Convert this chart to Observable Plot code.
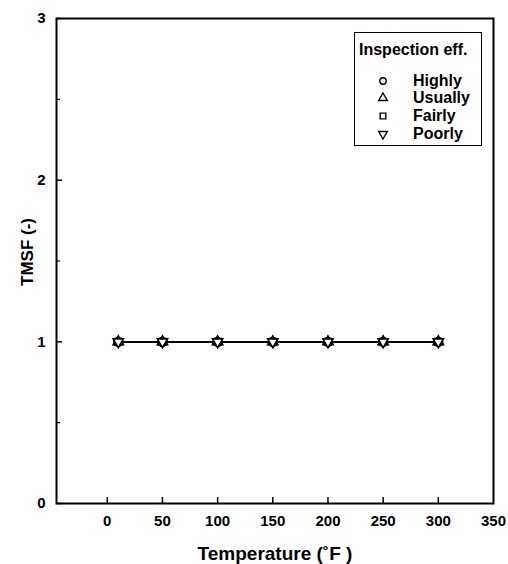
<!DOCTYPE html>
<html><head><meta charset="utf-8">
<script src="https://cdn.jsdelivr.net/npm/d3@7"></script>
<script src="https://cdn.jsdelivr.net/npm/@observablehq/plot@0.6"></script>
<style>
html,body{margin:0;padding:0;background:#fff;}
#wrap{position:relative;width:508px;height:564px;font-family:"Liberation Sans",Arial,sans-serif;}
#legend{position:absolute;left:354px;top:32px;width:128px;height:114px;border:1.5px solid #000;background:#fff;box-sizing:border-box;font-weight:bold;color:#000;}
#legend .title{position:absolute;left:4px;top:8px;font-size:16px;line-height:18px;white-space:nowrap;}
#legend .row{position:absolute;left:0;height:18px;width:100%;}
#legend .row svg{position:absolute;left:21px;top:2px;}
#legend .row span{position:absolute;left:58px;top:0;font-size:16px;line-height:18px;}
</style></head><body><div id="wrap"></div>
<script>
// Data
const temperature = [10, 50, 100, 150, 200, 250, 300];
const highly  = [1, 1, 1, 1, 1, 1, 1];
const usually = [1, 1, 1, 1, 1, 1, 1];
const fairly  = [1, 1, 1, 1, 1, 1, 1];
const poorly  = [1, 1, 1, 1, 1, 1, 1];
const seriesNames = ["Highly", "Usually", "Fairly", "Poorly"];
const xTicks = [0, 50, 100, 150, 200, 250, 300, 350];
const yTicks = [0, 1, 2, 3];
const yMinorTicks = [0.5, 1.5, 2.5];
const legendTitle = "Inspection eff.";
const xLabel = "Temperature (˚F )";
const yLabel = "TMSF (-)";

const triangleDown = {
  draw(context, size) {
    d3.symbolTriangle.draw({
      moveTo: (x, y) => context.moveTo(x, -y),
      lineTo: (x, y) => context.lineTo(x, -y),
      closePath: () => context.closePath()
    }, size);
  }
};
const symbols = [d3.symbolCircle, d3.symbolTriangle, d3.symbolSquare, triangleDown];
const seriesValues = [highly, usually, fairly, poorly];

const rows = [];
seriesNames.forEach((name, i) => {
  temperature.forEach((t, j) => rows.push({series: name, temperature: t, tmsf: seriesValues[i][j]}));
});

const W = 508, H = 564;
const mL = 56, mR = 15, mT = 18, mB = 61;
const plotW = W - mL - mR, plotH = H - mT - mB;

const marks = [
  Plot.axisX(xTicks, {tickSize: 0, tickPadding: 12, label: null, fontSize: 15, fontWeight: "bold", tickFormat: d => String(d)}),
  Plot.axisY(yTicks, {tickSize: 0, tickPadding: 11, label: null, fontSize: 15, fontWeight: "bold", tickFormat: d => String(d)}),
  Plot.tickX(xTicks.filter(d => d < 350), {x: d => d, insetTop: plotH - 6, stroke: "black", strokeWidth: 1.5}),
  Plot.tickY(yTicks, {y: d => d, insetRight: plotW - 6, stroke: "black", strokeWidth: 1.5}),
  Plot.tickY(yMinorTicks, {y: d => d, insetRight: plotW - 4, stroke: "black", strokeWidth: 1.2}),
];
seriesNames.forEach((name, i) => {
  marks.push(Plot.line(rows.filter(r => r.series === name), {x: "temperature", y: "tmsf", stroke: "black", strokeWidth: 1.6}));
});
const markerR = [4.4, 3.8, 3.8, 3.8];
seriesNames.forEach((name, i) => {
  marks.push(Plot.dot(rows.filter(r => r.series === name), {x: "temperature", y: "tmsf", symbol: () => symbols[i], r: markerR[i], fill: "white", stroke: "black", strokeWidth: 1.6}));
});
marks.push(Plot.frame({stroke: "black", strokeWidth: 2}));
marks.push(Plot.text([xLabel], {text: d => d, frameAnchor: "bottom", dy: 50, fontSize: 19, fontWeight: "bold", lineAnchor: "middle", textAnchor: "middle"}));
marks.push(Plot.text([yLabel], {text: d => d, frameAnchor: "left", dx: -29, dy: -9, rotate: -90, fontSize: 17, fontWeight: "bold", lineAnchor: "middle", textAnchor: "middle"}));

const chart = Plot.plot({
  width: W, height: H,
  marginLeft: mL, marginRight: mR, marginTop: mT, marginBottom: mB,
  style: {fontFamily: "'Liberation Sans', Arial, sans-serif", color: "black", background: "white"},
  x: {domain: [-46, 350], axis: null},
  y: {domain: [0, 3], axis: null},
  symbol: {type: "identity"},
  marks
});
const wrap = document.getElementById("wrap");
wrap.appendChild(chart);

// Legend
const legend = document.createElement("div");
legend.id = "legend";
const title = document.createElement("div");
title.className = "title";
title.textContent = legendTitle;
legend.appendChild(title);
const rowTops = [39, 56, 74, 92];
seriesNames.forEach((name, i) => {
  const row = document.createElement("div");
  row.className = "row";
  row.style.top = rowTops[i] + "px";
  const svg = d3.create("svg").attr("width", 14).attr("height", 14);
  svg.append("path").attr("transform", "translate(7,7)")
    .attr("d", d3.symbol(symbols[i], Math.PI * 3.2 * 3.2)())
    .attr("fill", "white").attr("stroke", "black").attr("stroke-width", 1.4);
  row.appendChild(svg.node());
  const s = document.createElement("span");
  s.textContent = name;
  row.appendChild(s);
  legend.appendChild(row);
});
wrap.appendChild(legend);
</script>
</body></html>
